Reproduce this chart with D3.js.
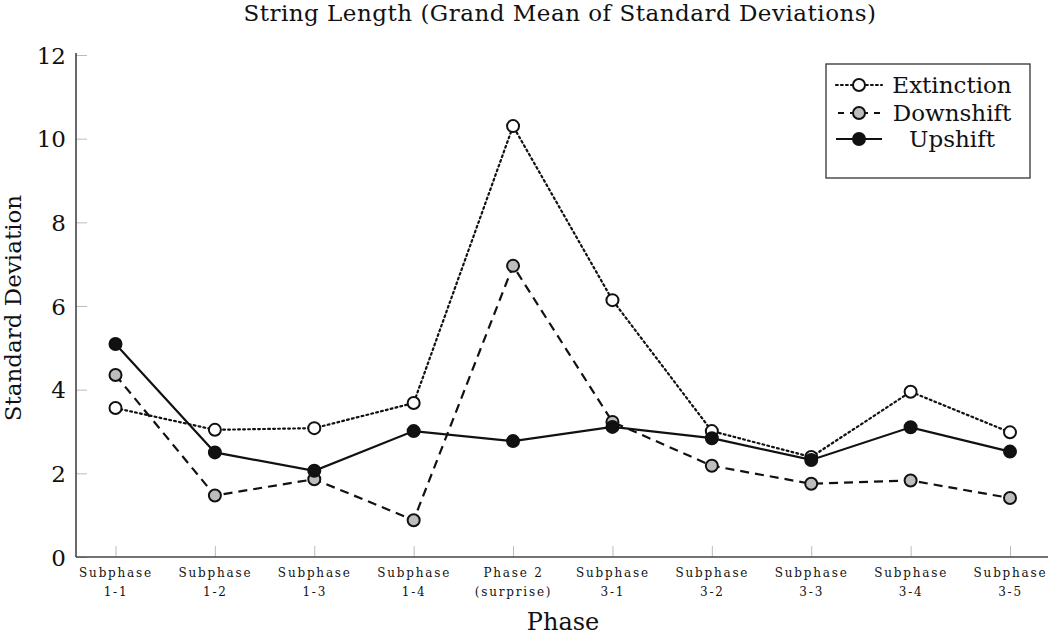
<!DOCTYPE html>
<html><head><meta charset="utf-8">
<script src="https://cdn.jsdelivr.net/npm/d3@7"></script>
<style>
body{margin:0;background:#fff;}
svg{display:block;}
text{font-family:"DejaVu Serif",serif;fill:#111;}
</style></head>
<body>
<svg id="chart" width="1050" height="637"></svg>
<script>
const categories = ["Subphase|1-1","Subphase|1-2","Subphase|1-3","Subphase|1-4","Phase 2|(surprise)","Subphase|3-1","Subphase|3-2","Subphase|3-3","Subphase|3-4","Subphase|3-5"];
const extinction = [3.56,3.04,3.08,3.68,10.30,6.14,3.01,2.39,3.95,2.98];
const downshift  = [4.35,1.47,1.86,0.88,6.96,3.23,2.18,1.75,1.83,1.41];
const upshift    = [5.09,2.50,2.06,3.01,2.77,3.11,2.84,2.32,3.10,2.52];
const yTicks = [0,2,4,6,8,10,12];
const seriesNames = ["Extinction","Downshift","Upshift"];

const svg = d3.select("#chart");
const pLeft = 76, pRight = 1048, pTop = 55, pBottom = 557;

const x = d3.scalePoint().domain(categories).range([115.5, 1010]);
const y = d3.scaleLinear().domain([0,12]).range([pBottom, pTop]);

// title
svg.append("text").attr("x", 560).attr("y", 21).attr("text-anchor","middle")
  .style("font-size","23px").style("letter-spacing","0.5px").text("String Length (Grand Mean of Standard Deviations)");

// y axis
const yAxis = d3.axisLeft(y).tickValues(yTicks).tickSize(0).tickPadding(10).tickFormat(d3.format("d"));
const gy = svg.append("g").attr("transform",`translate(${pLeft},0)`).call(yAxis);
gy.select(".domain").remove();
gy.selectAll("text").style("font-size","23px").style("font-family","DejaVu Serif, serif").attr("dy","0.36em");
gy.selectAll(".tick").append("line").attr("x1",0).attr("x2",11).attr("stroke","#bbb").attr("stroke-width",1);

// x axis
const xAxis = d3.axisBottom(x).tickSize(0).tickFormat("");
const gx = svg.append("g").attr("transform",`translate(0,${pBottom})`).call(xAxis);
gx.select(".domain").remove();
gx.selectAll(".tick").append("line").attr("y1",0).attr("y2",-11).attr("stroke","#bbb").attr("stroke-width",1);
gx.selectAll(".tick").each(function(d){
  const parts = d.split("|");
  const t = d3.select(this).append("text").attr("text-anchor","middle")
    .style("font-size","12px").style("letter-spacing","1.8px");
  t.append("tspan").attr("x",0).attr("y",20).text(parts[0]);
  t.append("tspan").attr("x",0).attr("y",39).text(parts[1]);
});

// axis lines
svg.append("line").attr("x1",pLeft).attr("x2",pLeft).attr("y1",pTop-2).attr("y2",pBottom).attr("stroke","#444").attr("stroke-width",1.6);
svg.append("line").attr("x1",pLeft).attr("x2",pRight).attr("y1",pBottom).attr("y2",pBottom).attr("stroke","#444").attr("stroke-width",1.6);

// axis labels
svg.append("text").attr("x",563).attr("y",630).attr("text-anchor","middle").style("font-size","24px").text("Phase");
svg.append("text").attr("transform","translate(21,308) rotate(-90)").attr("text-anchor","middle").style("font-size","23px").text("Standard Deviation");

const styles = [
  {name:seriesNames[0], data:extinction, dash:"1.8,3.2", fill:"#fff", cap:"round"},
  {name:seriesNames[1], data:downshift, dash:"9,6", fill:"#bdbdbd", cap:"butt"},
  {name:seriesNames[2], data:upshift, dash:null, fill:"#111", cap:"butt"}
];

const line = d3.line().x((d,i)=>x(categories[i])).y(d=>y(d));
styles.forEach(s=>{
  svg.append("path").datum(s.data).attr("d",line).attr("fill","none")
    .attr("stroke","#111").attr("stroke-width",2.2)
    .attr("stroke-dasharray",s.dash).attr("stroke-linecap",s.cap);
  svg.append("g").selectAll("circle").data(s.data).join("circle")
    .attr("cx",(d,i)=>x(categories[i])).attr("cy",d=>y(d)).attr("r",6)
    .attr("fill",s.fill).attr("stroke","#111").attr("stroke-width",2);
});

// legend
const lg = svg.append("g");
lg.append("rect").attr("x",826).attr("y",64).attr("width",204).attr("height",114)
  .attr("fill","#fff").attr("stroke","#333").attr("stroke-width",1.3);
const rowY = [85,113,139];
styles.forEach((s,i)=>{
  lg.append("line").attr("x1",836).attr("x2",882).attr("y1",rowY[i]).attr("y2",rowY[i])
    .attr("stroke","#111").attr("stroke-width",2.2).attr("stroke-dasharray",s.dash?(i===0?"1.8,3.2":"6,6"):null)
    .attr("stroke-dashoffset", i===1? -2 : 0)
    .attr("stroke-linecap",s.cap);
  lg.append("circle").attr("cx",859).attr("cy",rowY[i]).attr("r",6).attr("fill",s.fill).attr("stroke","#111").attr("stroke-width",2);
  lg.append("text").attr("x",952).attr("y",rowY[i]).attr("dy","0.36em").attr("text-anchor","middle")
    .style("font-size","23px").text(s.name);
});
</script>
</body></html>
